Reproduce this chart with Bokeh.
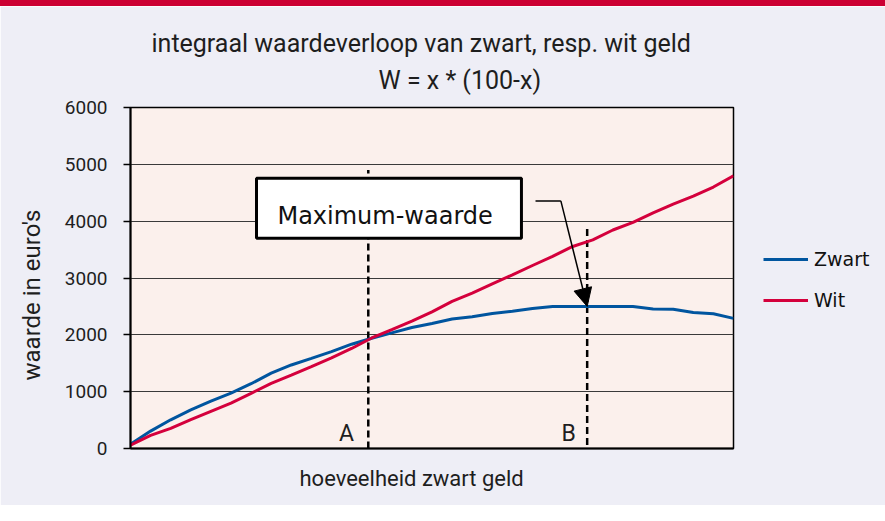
from bokeh.plotting import figure
from bokeh.models import (Range1d, FixedTicker, Title, Label, Legend, LegendItem,
                          Arrow, NormalHead)
from bokeh.embed import file_html
from bokeh.resources import INLINE

# ---- data ----
x_index = list(range(31))
zwart = [76, 306, 505, 680, 835, 975, 1140, 1325, 1470, 1585, 1705, 1835, 1940,
         2035, 2130, 2200, 2280, 2320, 2375, 2415, 2465, 2500, 2500, 2500, 2500,
         2500, 2455, 2450, 2392, 2370, 2290]
wit = [58, 230, 355, 510, 655, 800, 970, 1145, 1290, 1440, 1595, 1760, 1945,
       2090, 2240, 2405, 2590, 2735, 2895, 3055, 3220, 3380, 3555, 3670, 3845,
       3980, 4145, 4300, 4440, 4600, 4800]
y_ticks = [0, 1000, 2000, 3000, 4000, 5000, 6000]
series_names = ["Zwart", "Wit"]
title_lines = ["integraal waardeverloop van zwart, resp. wit geld", "W = x * (100-x)"]
x_label = "hoeveelheid zwart geld"
y_label = "waarde in euro's"

# markers A / B
marker_names = ["A", "B"]
marker_x = [11.83, 22.72]
marker_top = [4900, 3900]
marker_label_x = [10.75, 21.8]
marker_label_y = [270, 270]

# annotation box + arrow
box_text = "Maximum-waarde"
box_left, box_right, box_bottom, box_top = 6.27, 19.45, 3700, 4756
box_text_x, box_text_y = 7.31, 4088
arrow_x = [20.15, 21.41, 22.72]
arrow_y = [4357, 4357, 2500]

BLUE = "#00559F"
RED = "#D4003C"
MAIN = "Roboto"
TXT = "#1e1e1e"

p = figure(frame_width=603, frame_height=341,
           x_range=Range1d(0, 30), y_range=Range1d(0, 6000),
           output_backend="svg", toolbar_location=None,
           min_border_left=129, min_border_right=137,
           min_border_top=101, min_border_bottom=57,
           background_fill_color="#FBF0EC", border_fill_color="#EEEEF6",
           outline_line_color="black", outline_line_width=1.5)

p.styles = {"border-top": "6px solid #CC0033"}

# grid
p.xgrid.grid_line_color = None
p.ygrid.grid_line_color = "#3a3a3a"
p.ygrid.grid_line_width = 1.2

# y axis
p.yaxis.ticker = FixedTicker(ticks=y_ticks)
p.yaxis.minor_tick_line_color = None
p.yaxis.major_tick_out = 7
p.yaxis.major_tick_in = 0
p.yaxis.major_tick_line_width = 1.5
p.yaxis.axis_line_width = 2
p.yaxis.major_label_text_font = MAIN
p.yaxis.major_label_text_font_size = "19px"
p.yaxis.major_label_text_color = TXT
p.yaxis.major_label_standoff = 16

# x axis
p.xaxis.ticker = FixedTicker(ticks=[])
p.xaxis.major_tick_line_color = None
p.xaxis.minor_tick_line_color = None
p.xaxis.axis_line_width = 2

# axis titles placed as side titles for exact positioning
p.add_layout(Title(text=x_label, align="left", offset=169,
                   text_font=MAIN, text_font_size="22px",
                   text_font_style="normal", text_color=TXT,
                   standoff=30), "below")
p.add_layout(Title(text=y_label, align="left", offset=68,
                   text_font=MAIN, text_font_size="24px",
                   text_font_style="normal", text_color=TXT,
                   standoff=31), "left")

# titles (second line added first: it sits nearest the frame)
p.add_layout(Title(text=title_lines[1], align="left", offset=248,
                   text_font=MAIN, text_font_size="25px",
                   text_font_style="normal", text_color=TXT,
                   standoff=26), "above")
p.add_layout(Title(text=title_lines[0], align="left", offset=21,
                   text_font=MAIN, text_font_size="25px",
                   text_font_style="normal", text_color=TXT,
                   standoff=-14), "above")

# dashed markers
p.segment(x0=marker_x, y0=[0, 60], x1=marker_x, y1=marker_top,
          line_color="black", line_width=2.5, line_dash="7 4")
for name, lx, ly in zip(marker_names, marker_label_x, marker_label_y):
    p.add_layout(Label(x=lx, y=ly, text=name, text_align="center",
                       text_baseline="alphabetic", text_font=MAIN,
                       text_font_size="23px", text_color=TXT))

# series lines
r_z = p.line(x_index, zwart, line_color=BLUE, line_width=3)
r_w = p.line(x_index, wit, line_color=RED, line_width=3)

# annotation box
p.quad(left=[box_left], right=[box_right], bottom=[box_bottom], top=[box_top],
       fill_color="white", line_color="black", line_width=3)
p.add_layout(Label(x=box_text_x, y=box_text_y, text=box_text,
                   text_align="left", text_baseline="alphabetic",
                   text_font="DejaVu Sans", text_font_size="24px",
                   text_color="#111111"))

# arrow
p.line(arrow_x[:2], arrow_y[:2], line_color="black", line_width=1.5)
p.add_layout(Arrow(end=NormalHead(size=18, fill_color="black", line_color="black"),
                   x_start=arrow_x[1], y_start=arrow_y[1],
                   x_end=arrow_x[2], y_end=arrow_y[2],
                   line_color="black", line_width=1.5))

legend = Legend(items=[LegendItem(label=series_names[0], renderers=[r_z]),
                       LegendItem(label=series_names[1], renderers=[r_w])],
                location=(30, 137), margin=0, padding=0,
                border_line_color=None, background_fill_alpha=0,
                glyph_width=45, glyph_height=20, label_height=20,
                spacing=19, label_standoff=6,
                label_text_font="DejaVu Sans", label_text_font_size="19px",
                label_text_color="#111111")
p.add_layout(legend, "right")

open("out.html", "w").write(file_html(p, INLINE))
